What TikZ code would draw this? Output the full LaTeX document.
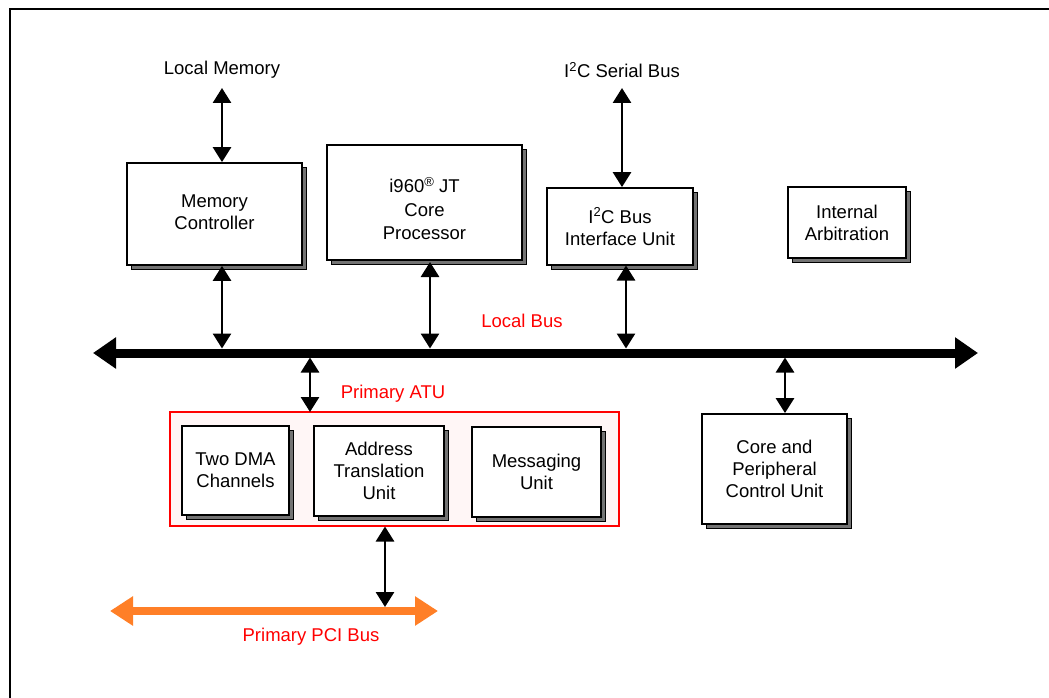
\documentclass[tikz,border=0pt]{standalone}
\usepackage{fontspec}
\setmainfont{Liberation Sans}
\usetikzlibrary{arrows.meta,shadows}
\definecolor{pcior}{RGB}{255,127,39}
\definecolor{atufill}{RGB}{255,246,246}
\begin{document}
\begin{tikzpicture}[x=1pt,y=-1pt,
  txt/.style={font=\fontsize{18.5}{22}\selectfont, align=center, inner sep=0pt},
  redtxt/.style={txt, text=red},
  box/.style={txt, draw, line width=1.8pt, fill=white,
    copy shadow={shadow xshift=4.5pt, shadow yshift=-4.5pt, fill=gray!90!black, draw=black, line width=1pt}},
  conn/.style={line width=2.8pt, {Triangle[width=18pt,length=15pt]}-{Triangle[width=18pt,length=15pt]}},
  bus/.style={line width=9pt, {Triangle[width=30pt,length=23pt]}-{Triangle[width=30pt,length=23pt]}},
  pci/.style={pcior, line width=8pt, {Triangle[width=28pt,length=23pt]}-{Triangle[width=28pt,length=23pt]}},
  atubox/.style={draw=red, line width=1.3pt, fill=atufill}
]
\useasboundingbox (0,0) rectangle (1049,698);
% frame
\draw[line width=2pt] (10,698) -- (10,9) -- (1049,9);

% bus
\coordinate (busL) at (93,353);
\coordinate (busR) at (978,353);
\draw[bus] (busL) -- (busR);
\coordinate (busT) at (0,348.5);
\coordinate (busB) at (0,357.5);

% top labels
\node[txt] (lm) at (222,70) {Local Memory};
\node[txt] (i2cs) at (622,70) {I\textsuperscript{2}C Serial Bus};

% boxes
\node[box, minimum width=175, minimum height=102] (mc) at (214.5,214) {\raisebox{0pt}[0pt][0pt]{}\\[-13pt]Memory\\Controller};
\node[box, minimum width=195, minimum height=115] (cp) at (424.5,202.5) {\raisebox{0pt}[0pt][0pt]{}\\[6pt]i960\raisebox{6pt}{\fontsize{13}{13}\selectfont\textregistered} JT\\[2pt]Core\\[1pt]Processor};
\node[box, minimum width=146, minimum height=77] (i2c) at (620,226.5) {I\textsuperscript{2}C Bus\\Interface Unit};
\node[box, minimum width=118, minimum height=71] (ia) at (847,222.5) {Internal\\Arbitration};

\node[redtxt] (lbus) at (522,321) {Local Bus};

% ATU group
\draw[atubox] (170,412) rectangle (619,526);
\coordinate (atuS) at (385,526.5);
\coordinate (atuN) at (310,412);
\node[redtxt] (patu) at (393,394) {Primary ATU};
\node[box, minimum width=107, minimum height=89] (dma) at (235.5,470.5) {Two DMA\\Channels};
\node[box, minimum width=130, minimum height=90] (atu) at (379,471) {Address\\Translation\\Unit};
\node[box, minimum width=129, minimum height=90] (msg) at (536.5,472) {Messaging\\Unit};
\node[box, minimum width=145, minimum height=110] (cpc) at (774.5,469) {Core and\\Peripheral\\Control Unit};

% PCI bus
\coordinate (pciL) at (110,611);
\coordinate (pciR) at (438,611);
\draw[pci] (pciL) -- (pciR);
\node[redtxt] (ppci) at (311,637) {Primary PCI Bus};

% connectors
\draw[conn] (222,88) coordinate (lmA) -- (lmA |- mc.north);
\draw[conn] (lmA |- mc.south) -- (lmA |- busT);
\draw[conn] (430,262) coordinate (cpA) -- (cpA |- busT);
\draw[conn] (622,88) coordinate (i2cA) -- (i2cA |- i2c.north);
\draw[conn] (626,265.5) coordinate (i2cB) -- (i2cB |- busT);
\draw[conn] (atuN |- busB) -- (atuN);
\draw[conn] (785,357.5) coordinate (cpcA) -- (cpcA |- cpc.north);
\draw[conn] (atuS) -- (atuS |- 0,607);
\end{tikzpicture}
\end{document}
